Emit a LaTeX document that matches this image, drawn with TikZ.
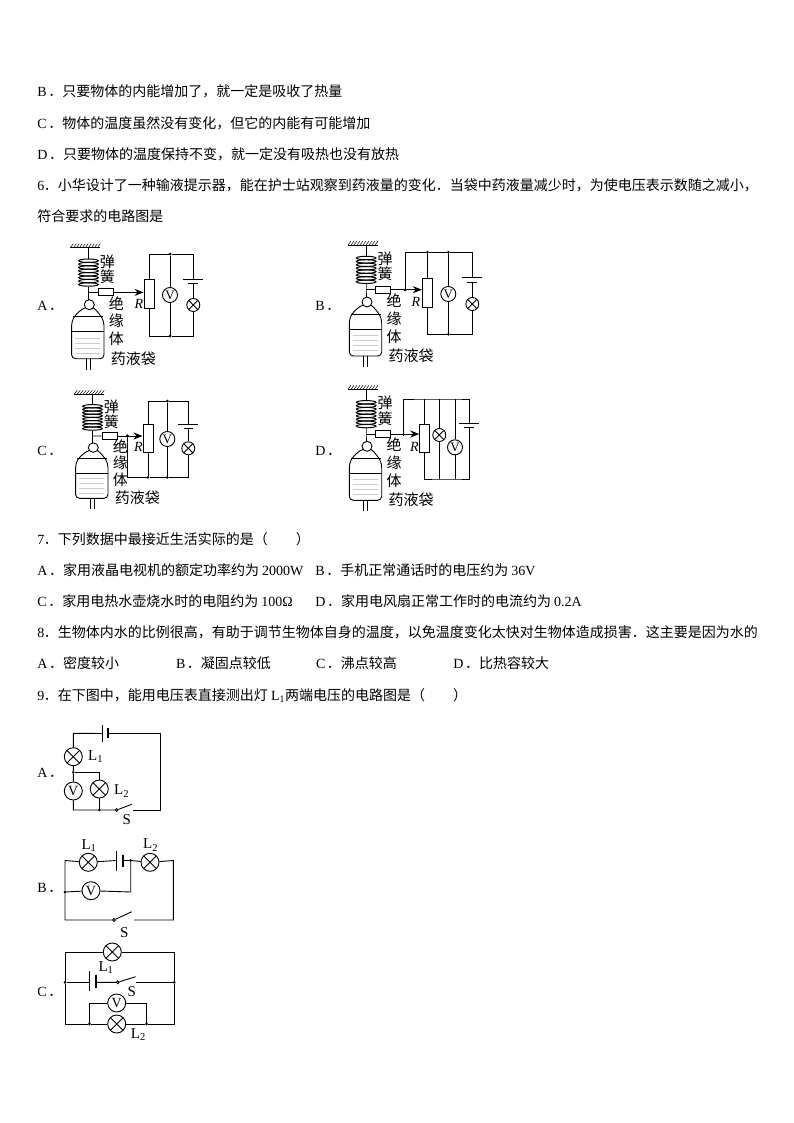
\documentclass[tikz,border=0pt]{standalone}
\usepackage{fontspec}
\setmainfont{Noto Sans CJK SC}
\newfontfamily\lat{Liberation Serif}
\usetikzlibrary{arrows.meta}

\newcommand{\opt}[1]{{\lat #1}\kern1.5pt．}
\newcommand{\num}[1]{{\lat #1}\kern-.5pt．}
\newcommand{\lone}{{\lat L\textsubscript{1}}}
\newcommand{\ltwo}{{\lat L\textsubscript{2}}}

\tikzset{
    txt/.style={anchor=base west,inner sep=0pt,font=\fontsize{14}{16}\selectfont},
    lbl/.style={inner sep=0pt,font=\fontsize{15}{16}\selectfont},
    bagtxt/.style={inner sep=0pt,font=\fontsize{15}{16}\selectfont},
    lampsmall/.style={draw,circle,fill=white,inner sep=0pt,minimum size=13pt,
        path picture={\draw (path picture bounding box.north west) -- (path picture bounding box.south east)
            (path picture bounding box.north east) -- (path picture bounding box.south west);}},
    lampbig/.style={lampsmall,minimum size=18pt},
    vsmall/.style={draw,circle,fill=white,inner sep=0pt,minimum size=15pt,font=\lat\fontsize{13}{13}\selectfont},
    vbig/.style={vsmall,minimum size=18pt,font=\lat\fontsize{14}{14}\selectfont},
    rbox/.style={draw,fill=white,inner sep=0pt,minimum width=10pt,minimum height=28.5pt},
    insbox/.style={draw,fill=white,inner sep=0pt,minimum width=15pt,minimum height=7pt},
    platewide/.style={fill=black,inner sep=0pt,outer sep=0pt,minimum width=#1,minimum height=1pt},
    platetall/.style={fill=black,inner sep=0pt,outer sep=0pt,minimum height=#1,minimum width=1pt},
    platefat/.style={fill=black,inner sep=0pt,outer sep=0pt,minimum height=#1,minimum width=2pt},
    joint/.style={fill=black,circle,inner sep=0pt,outer sep=0pt,minimum size=3pt},
    pivot/.style={draw,fill=white,circle,inner sep=0pt,minimum size=2.8pt}
}

% spring, rod and bag hanging from (#2,#3)
\newcommand{\apparatus}[4]{
    \begin{scope}[shift={(#2,#3)},yscale=#4,name prefix=#1-]
        \draw[line width=1pt] (-18,0) -- (12,0);
        \foreach \hx in {-18,-15,...,10}
            \draw[line width=.5pt] (\hx,0) -- (\hx+3,-4);
        \draw (0,0) -- (0,11);
        \foreach \sy in {13,16.4,...,37}
            \draw[line width=1pt] (0.2,\sy) ellipse (9.8 and 1.7);
        \coordinate (tap) at (0,44.7);
        \node[insbox] (ins) at (17.3,44.7) {};
        \draw (0,39) -- (tap) -- (0,52);
        \draw (tap) -- (ins);
        \draw (1,57) circle (5);
        \draw[rounded corners=4pt] (-3,60) .. controls (-10,63) and (-14,69) .. (-16.7,74) -- (-16.7,111) -- (15.7,111) -- (15.7,74) .. controls (13,69) and (9,63) .. (5,60);
        \draw (-15,69) -- (14.5,69);
        \draw (-16.7,84) -- (15.7,84);
        \foreach \wy in {90,95,100,105}
            \draw[gray!40,line width=.4pt] (-13,\wy) -- (12,\wy);
        \draw (-2.3,111) -- (-2.3,122);
        \draw (1.7,111) -- (1.7,122);
        \node[bagtxt] (tan) at (19,14) {弹};
        \node[bagtxt] (huang) at (19,29) {簧};
        \node[bagtxt] (jue) at (28,55.5) {绝};
        \node[bagtxt] (yuan) at (28,73.5) {缘};
        \node[bagtxt] (ti) at (28,91.5) {体};
        \node[bagtxt] (bag) at (45,110.7) {药液袋};
    \end{scope}
}

\begin{document}
\begin{tikzpicture}[x=1pt,y=-1pt,line width=.9pt]
    \useasboundingbox (0,0) rectangle (794,1123);

    \node[txt] (l1) at (37,96.5) {\opt{B}只要物体的内能增加了，就一定是吸收了热量};
    \node[txt] (l2) at (37,128.5) {\opt{C}物体的温度虽然没有变化，但它的内能有可能增加};
    \node[txt] (l3) at (37,159.5) {\opt{D}只要物体的温度保持不变，就一定没有吸热也没有放热};
    \node[txt] (l4) at (37,190.5) {\num{6}小华设计了一种输液提示器，能在护士站观察到药液量的变化．当袋中药液量减少时，为使电压表示数随之减小，};
    \node[txt] (l5) at (37,221.5) {符合要求的电路图是};

    \node[txt] (qa) at (37,310) {\opt{A}};
    \node[txt] (qb) at (315,310) {\opt{B}};
    \node[txt] (qc) at (37,455) {\opt{C}};
    \node[txt] (qd) at (315,455) {\opt{D}};

    % panel A
    \apparatus{a}{88.3}{247.7}{1}
    \node[rbox] (a-R) at (149,294) {};
    \node[lbl,font=\lat\itshape\fontsize{14}{14}\selectfont] (a-Rl) at (139,304) {R};
    \node[vsmall] (a-V) at (170,295) {V};
    \node[platewide=20pt] (a-p1) at (193.3,279) {};
    \node[platewide=10pt] (a-p2) at (193.3,283.3) {};
    \node[lampsmall] (a-L) at (193.3,305) {};
    \node[joint] (a-j1) at (170,254) {};
    \node[joint] (a-j2) at (170,336) {};
    \coordinate (a-c1) at (149,254);
    \coordinate (a-c2) at (193.3,254);
    \coordinate (a-c3) at (193.3,336);
    \coordinate (a-c4) at (149,336);
    \draw (a-R) -- (a-c1) -- (a-j1) -- (a-c2) -- (a-p1);
    \draw (a-p2) -- (a-L) -- (a-c3) -- (a-j2) -- (a-c4) -- (a-R);
    \draw (a-j1) -- (a-V) -- (a-j2);
    \draw[-{Stealth[length=9pt,width=7pt]}] (a-ins) -- (a-R.west |- a-ins);

    % panel B
    \apparatus{b}{366}{245}{1}
    \node[rbox] (b-R) at (427.3,292.8) {};
    \node[lbl,font=\lat\itshape\fontsize{14}{14}\selectfont] (b-Rl) at (416,301.7) {R};
    \node[vsmall] (b-V) at (448.3,294) {V};
    \node[platewide=20pt] (b-p1) at (472.3,277.7) {};
    \node[platewide=10pt] (b-p2) at (472.3,282.3) {};
    \node[lampsmall] (b-L) at (472.3,304) {};
    \node[joint] (b-j0) at (405,290) {};
    \node[joint] (b-j1) at (427.3,252.3) {};
    \node[joint] (b-j2) at (448.3,252.3) {};
    \node[joint] (b-j3) at (448.3,334.3) {};
    \coordinate (b-c1) at (405,252.3);
    \coordinate (b-c2) at (472.3,252.3);
    \coordinate (b-c3) at (472.3,334.3);
    \coordinate (b-c4) at (427.3,334.3);
    \draw (b-j0) -- (b-c1) -- (b-j1) -- (b-j2) -- (b-c2) -- (b-p1);
    \draw (b-j1) -- (b-R) -- (b-c4) -- (b-j3) -- (b-c3) -- (b-L) -- (b-p2);
    \draw (b-j2) -- (b-V) -- (b-j3);
    \draw[-{Stealth[length=9pt,width=7pt]}] (b-ins) -- (b-R.west |- b-ins);

    % panel C
    \apparatus{c}{92.3}{394}{.94}
    \node[rbox] (c-R) at (148,438.3) {};
    \node[lbl,font=\lat\itshape\fontsize{14}{14}\selectfont] (c-Rl) at (138.3,446.7) {R};
    \node[vsmall] (c-V) at (167.3,439) {V};
    \node[platewide=20pt] (c-p1) at (188.3,424.3) {};
    \node[platewide=9pt] (c-p2) at (188.3,428.3) {};
    \node[lampsmall] (c-L) at (188.3,448.3) {};
    \node[joint] (c-j0) at (127.3,435.7) {};
    \node[joint] (c-j1) at (167.3,401) {};
    \node[joint] (c-j2) at (167.3,477.3) {};
    \node[joint] (c-j3) at (148,477.3) {};
    \coordinate (c-c1) at (148,401);
    \coordinate (c-c2) at (188.3,401);
    \coordinate (c-c3) at (188.3,477.3);
    \coordinate (c-c4) at (127.3,477.3);
    \draw (c-R) -- (c-c1) -- (c-j1) -- (c-c2) -- (c-p1);
    \draw (c-p2) -- (c-L) -- (c-c3) -- (c-j2) -- (c-j3) -- (c-c4) -- (c-j0);
    \draw (c-R) -- (c-j3);
    \draw (c-j1) -- (c-V) -- (c-j2);
    \draw[-{Stealth[length=9pt,width=7pt]}] (c-ins) -- (c-R.west |- c-ins);

    % panel D
    \apparatus{d}{366}{389.3}{1}
    \node[rbox] (d-R) at (424.7,438.3) {};
    \node[lbl,font=\lat\itshape\fontsize{14}{14}\selectfont] (d-Rl) at (414.3,446.7) {R};
    \node[lampsmall] (d-L) at (439.3,435) {};
    \node[vsmall] (d-V) at (455,447.3) {V};
    \node[platewide=20pt] (d-p1) at (469.3,423.3) {};
    \node[platewide=10pt] (d-p2) at (469.3,427.7) {};
    \coordinate (d-c0) at (403.3,436);
    \coordinate (d-c1) at (403.3,399);
    \coordinate (d-t1) at (424.7,399);
    \coordinate (d-t2) at (439.3,399);
    \coordinate (d-t3) at (455,399);
    \coordinate (d-t4) at (469.3,399);
    \coordinate (d-b1) at (424.7,479);
    \coordinate (d-b2) at (439.3,479);
    \coordinate (d-b3) at (455,479);
    \coordinate (d-b4) at (469.3,479);
    \draw (d-c0) -- (d-c1) -- (d-t1) -- (d-t2) -- (d-t3) -- (d-t4) -- (d-p1);
    \draw (d-p2) -- (d-b4) -- (d-b3) -- (d-b2) -- (d-b1) -- (d-R) -- (d-t1);
    \draw (d-t2) -- (d-L) -- (d-b2);
    \draw (d-t3) -- (d-V) -- (d-b3);
    \draw[-{Stealth[length=9pt,width=7pt]}] (d-ins) -- (d-R.west |- d-ins);

    \node[txt] (l6) at (37,544.5) {\num{7}下列数据中最接近生活实际的是（\hspace{28pt}）};
    \node[txt] (l7a) at (37,575.5) {\opt{A}家用液晶电视机的额定功率约为 {\lat 2000W}};
    \node[txt] (l7b) at (315,575.5) {\opt{B}手机正常通话时的电压约为 {\lat 36V}};
    \node[txt] (l8a) at (37,606.5) {\opt{C}家用电热水壶烧水时的电阻约为 {\lat 100Ω}};
    \node[txt] (l8b) at (315,606.5) {\opt{D}家用电风扇正常工作时的电流约为 {\lat 0.2A}};
    \node[txt] (l9) at (37,637.5) {\num{8}生物体内水的比例很高，有助于调节生物体自身的温度，以免温度变化太快对生物体造成损害．这主要是因为水的};
    \node[txt] (l10a) at (37,668.5) {\opt{A}密度较小};
    \node[txt] (l10b) at (175.7,668.5) {\opt{B}凝固点较低};
    \node[txt] (l10c) at (315.7,668.5) {\opt{C}沸点较高};
    \node[txt] (l10d) at (453,668.5) {\opt{D}比热容较大};
    \node[txt] (l11) at (37,700.5) {\num{9}在下图中，能用电压表直接测出灯 \lone 两端电压的电路图是（\hspace{28pt}）};

    % circuit A
    \node[txt] (ka) at (37,777) {\opt{A}};
    \node[lampbig] (ea-L1) at (73.3,756.7) {};
    \node[vbig] (ea-V) at (73.3,791) {V};
    \node[lampbig] (ea-L2) at (99.3,789) {};
    \node[joint] (ea-j1) at (73.3,772.3) {};
    \node[joint] (ea-j2) at (99.3,810) {};
    \node[pivot] (ea-s) at (116.7,810) {};
    \node[platetall=17pt] (ea-p1) at (102.7,733.5) {};
    \node[platefat=10pt] (ea-p2) at (107.7,733.3) {};
    \coordinate (ea-tl) at (73.3,733.3);
    \coordinate (ea-tr) at (160,733.3);
    \coordinate (ea-br) at (160,810);
    \coordinate (ea-bl) at (73.3,810);
    \coordinate (ea-c) at (99.3,772.3);
    \coordinate (ea-e) at (133.3,810);
    \coordinate (ea-b) at (131.7,804.3);
    \draw (ea-p1) -- (ea-tl) -- (ea-L1) -- (ea-j1) -- (ea-V) -- (ea-bl) -- (ea-j2) -- (ea-s) -- (ea-b);
    \draw (ea-p2) -- (ea-tr) -- (ea-br) -- (ea-e);
    \draw (ea-j1) -- (ea-c) -- (ea-L2) -- (ea-j2);
    \node[lbl] (ea-n1) at (95.7,756.7) {\lone};
    \node[lbl] (ea-n2) at (121.7,791) {\ltwo};
    \node[lbl,font=\lat\fontsize{15}{15}\selectfont] (ea-nS) at (126.7,820) {S};

    % circuit B
    \node[txt] (kb) at (37,892) {\opt{B}};
    \node[lampbig] (eb-L1) at (88.3,862.3) {};
    \node[lampbig] (eb-L2) at (150,862.3) {};
    \node[vbig] (eb-V) at (91,890.7) {V};
    \node[platetall=20pt] (eb-p1) at (116,860.5) {};
    \node[platefat=12pt] (eb-p2) at (122.7,860.5) {};
    \node[joint] (eb-j1) at (130.7,860.5) {};
    \node[joint] (eb-j2) at (65,892) {};
    \node[pivot] (eb-s) at (114,920) {};
    \coordinate (eb-tl) at (65,860.5);
    \coordinate (eb-tr) at (173.3,860.5);
    \coordinate (eb-br) at (173.3,920);
    \coordinate (eb-bl) at (65,920);
    \coordinate (eb-c) at (130.7,892);
    \coordinate (eb-e) at (134,920);
    \coordinate (eb-b) at (131.7,911.7);
    \draw (eb-p1) -- (eb-L1) -- (eb-tl) -- (eb-j2) -- (eb-bl) -- (eb-s) -- (eb-b);
    \draw (eb-p2) -- (eb-j1) -- (eb-L2) -- (eb-tr) -- (eb-br) -- (eb-e);
    \draw (eb-j2) -- (eb-V) -- (eb-c) -- (eb-j1);
    \node[lbl] (eb-n1) at (89,845.7) {\lone};
    \node[lbl] (eb-n2) at (150.7,845) {\ltwo};
    \node[lbl,font=\lat\fontsize{15}{15}\selectfont] (eb-nS) at (124.3,932.3) {S};

    % circuit C
    \node[txt] (kc) at (37,996) {\opt{C}};
    \node[lampbig] (ec-L1) at (112.3,952) {};
    \node[lampbig] (ec-L2) at (116.7,1024) {};
    \node[vbig] (ec-V) at (116.7,1003) {V};
    \node[platetall=20pt] (ec-p1) at (89,981) {};
    \node[platefat=13pt] (ec-p2) at (96,981.5) {};
    \node[joint] (ec-j1) at (65,982.3) {};
    \node[joint] (ec-j2) at (174.3,982.3) {};
    \node[joint] (ec-j3) at (89.3,1024) {};
    \node[joint] (ec-j4) at (146.7,1024) {};
    \node[pivot] (ec-s) at (117.7,982.3) {};
    \coordinate (ec-tl) at (65,952);
    \coordinate (ec-tr) at (174.3,952);
    \coordinate (ec-br) at (174.3,1024);
    \coordinate (ec-bl) at (65,1024);
    \coordinate (ec-vl) at (89.3,1003);
    \coordinate (ec-vr) at (146.7,1003);
    \coordinate (ec-e) at (135.7,982.3);
    \coordinate (ec-b) at (135.7,976.7);
    \draw (ec-L1) -- (ec-tl) -- (ec-j1) -- (ec-bl) -- (ec-j3) -- (ec-L2) -- (ec-j4) -- (ec-br) -- (ec-j2) -- (ec-tr) -- (ec-L1);
    \draw (ec-j1) -- (ec-p1 |- ec-j1);
    \draw (ec-p2 |- ec-s) -- (ec-s) -- (ec-b);
    \draw (ec-e) -- (ec-j2);
    \draw (ec-j3) -- (ec-vl) -- (ec-V) -- (ec-vr) -- (ec-j4);
    \node[lbl] (ec-n1) at (106,967.3) {\lone};
    \node[lbl] (ec-n2) at (138.3,1034.3) {\ltwo};
    \node[lbl,font=\lat\fontsize{15}{15}\selectfont] (ec-nS) at (131.7,991.7) {S};
\end{tikzpicture}
\end{document}
